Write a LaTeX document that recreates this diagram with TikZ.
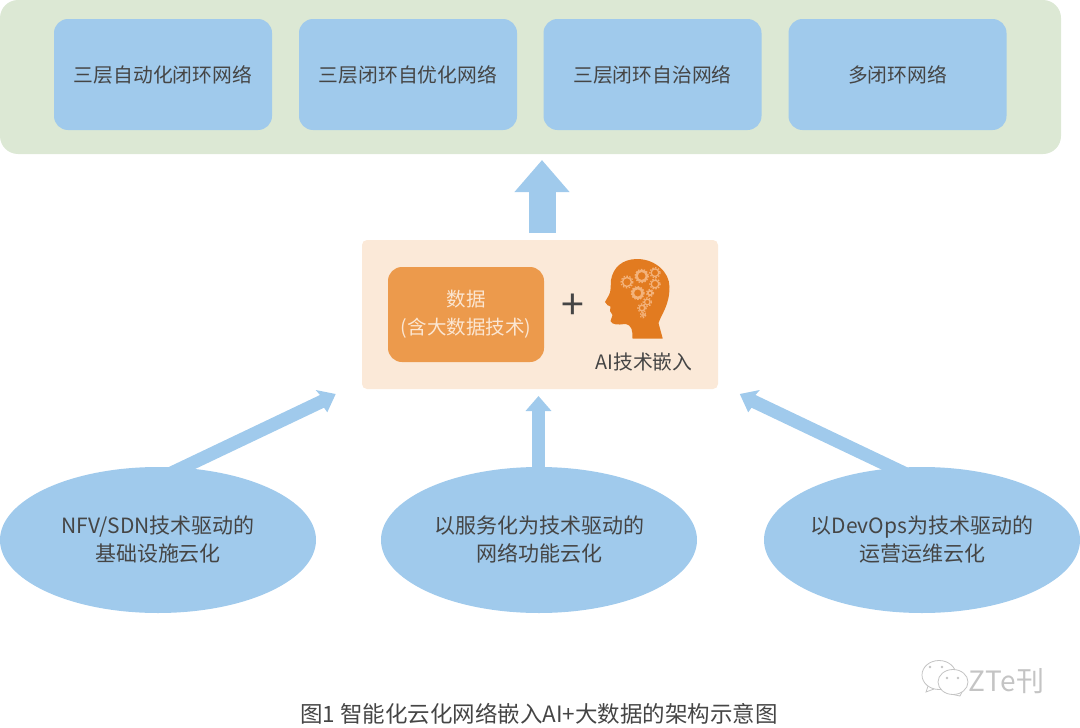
\documentclass[tikz,border=0pt]{standalone}
\usepackage{fontspec}
\setmainfont{Noto Sans CJK SC}[Scale=1]
\usetikzlibrary{arrows.meta,shapes.geometric}
\definecolor{greenbg}{HTML}{DCE8D4}
\definecolor{skyblue}{HTML}{A0CAEC}
\definecolor{panelbg}{HTML}{FBE9D8}
\definecolor{orangebox}{HTML}{EC9A4C}
\definecolor{headcol}{HTML}{E27B20}
\definecolor{gearcol}{HTML}{F3B27A}
\definecolor{txt}{HTML}{454545}
\definecolor{lighttxt}{HTML}{FBE6D2}
\definecolor{wm}{HTML}{C4C4C4}
\tikzset{
  goalbox/.style={rectangle,rounded corners=14pt,fill=skyblue,minimum width=218pt,minimum height=111pt,text=txt,font=\fontsize{19.8}{24}\selectfont},
  cloudell/.style={ellipse,fill=skyblue,minimum width=316pt,minimum height=146pt,inner sep=0pt,text=txt,align=center,font=\fontsize{21}{28}\selectfont},
  bigarrow/.style={draw=skyblue,line width=27pt,-{Triangle[length=32pt,width=53pt]}},
  thinarrow/.style={draw=skyblue,line width=13pt,-{Triangle[length=15pt,width=25pt]}},
}
\begin{document}
\begin{tikzpicture}[x=1pt,y=-1pt]
\useasboundingbox (0,0) rectangle (1080,728);
% outer green panel
\node[rectangle,rounded corners=18pt,fill=greenbg,minimum width=1061pt,minimum height=154pt,inner sep=0pt] (goals) at (530.5,77) {};
\node[goalbox] (g1) at (163,74.5) {三层自动化闭环网络};
\node[goalbox] (g2) at (408,74.5) {三层闭环自优化网络};
\node[goalbox] (g3) at (652.5,74.5) {三层闭环自治网络};
\node[goalbox] (g4) at (897.5,74.5) {多闭环网络};
% centre panel
\node[rectangle,rounded corners=5pt,fill=panelbg,minimum width=356pt,minimum height=149pt,inner sep=0pt] (panel) at (540,314.5) {};
\node[rectangle,rounded corners=14pt,fill=orangebox,minimum width=156pt,minimum height=95pt,inner sep=0pt,text=lighttxt,align=center,font=\fontsize{19.5}{28}\selectfont] (data) at (466,314.5) {数据\\(含大数据技术)};
\node[text=txt,font=\fontsize{41}{41}\selectfont,inner sep=0pt] (plus) at (573,307) {+};
\node[text=txt,font=\fontsize{19.8}{22}\selectfont,inner sep=0pt] (ailabel) at (644,362) {AI技术嵌入};
% head
\fill[headcol] (662.7,338.5) -- (658.5,323) .. controls (662,313) and (669.5,305) .. (669.5,287)
  .. controls (669.5,272) and (655,259) .. (637,259)
  .. controls (622,259) and (613,268) .. (611,280)
  .. controls (610.5,288) and (611,291) .. (609,295) -- (605,302)
  .. controls (606,305) and (609,306) .. (610.5,306.5) -- (610,311) -- (612.5,315) -- (610.5,321)
  .. controls (612,325) and (618,325) .. (625,324)
  .. controls (632,325) and (632.5,330) .. (632.5,338.5) -- cycle;
% gears
\foreach \x/\y/\r/\d in {641.7/276/5.2/2.4, 627/282/4.5/1.4, 655/272.7/3.8/1.3, 655/284/3.8/1.3, 637.7/293/5/2.6, 650/293/2.2/1.6, 647.3/302/2.8/1.2, 642/308/2.8/1.4, 643/315/1.4/1.2}{
  \draw[gearcol,line width=\d pt] (\x,\y) circle (\r);
  \draw[gearcol,line width=1.2pt,dash pattern=on 1.5pt off 1.5pt] (\x,\y) circle (\r+1.4);
}
% ellipses
\node[cloudell] (c1) at (158,540) {NFV/SDN技术驱动的\\基础设施云化};
\node[cloudell] (c2) at (539,540) {以服务化为技术驱动的\\网络功能云化};
\node[cloudell] (c3) at (922,540) {以DevOps为技术驱动的\\运营运维云化};
% connectors
\coordinate (upstart) at (542,233);
\coordinate (uptip) at (542,160);
\draw[bigarrow] (upstart) -- (uptip);
\coordinate (m0) at (538.5,470);
\coordinate (mt) at (538.5,396);
\draw[thinarrow] (m0) -- (mt);
% tapered diagonal arrows
\coordinate (la) at (166.7,468); \coordinate (lb) at (193,470);
\coordinate (lc) at (324,407.7); \coordinate (ld) at (327.3,412.3);
\coordinate (lt) at (335.7,394);
\coordinate (le) at (315.7,390); \coordinate (lf) at (320,395);
\fill[skyblue] (la) -- (lf) -- (le) -- (lt) -- (ld) -- (lc) -- (lb) -- cycle;
\coordinate (ra) at (908.8,468); \coordinate (rb) at (882.5,470);
\coordinate (rc) at (751.5,407.7); \coordinate (rd) at (748.2,412.3);
\coordinate (rt) at (739.8,394);
\coordinate (re) at (759.8,390); \coordinate (rf) at (755.5,395);
\fill[skyblue] (ra) -- (rf) -- (re) -- (rt) -- (rd) -- (rc) -- (rb) -- cycle;
% watermark
\draw[wm,line width=0.8pt,fill=white] (939,675) ellipse (17 and 14.5);
\draw[wm,line width=0.8pt] (928,686) -- (926,692) -- (934,689);
\draw[wm,line width=0.8pt,fill=white] (953,682) ellipse (15 and 12.5);
\draw[wm,line width=0.8pt] (962,692) -- (960,696) -- (953,694.5);
\fill[wm] (930,667) circle (1.3) (942,667) circle (1.3) (947,678) circle (1.3) (958,678) circle (1.3);
\node[text=wm,font=\fontsize{28}{28}\selectfont,inner sep=0pt] (wmtext) at (1006.5,681) {ZTe刊};
% caption
\node[text=txt,font=\fontsize{22.5}{24}\selectfont,inner sep=0pt] (caption) at (539,714) {图1 智能化云化网络嵌入AI+大数据的架构示意图};
\end{tikzpicture}
\end{document}
